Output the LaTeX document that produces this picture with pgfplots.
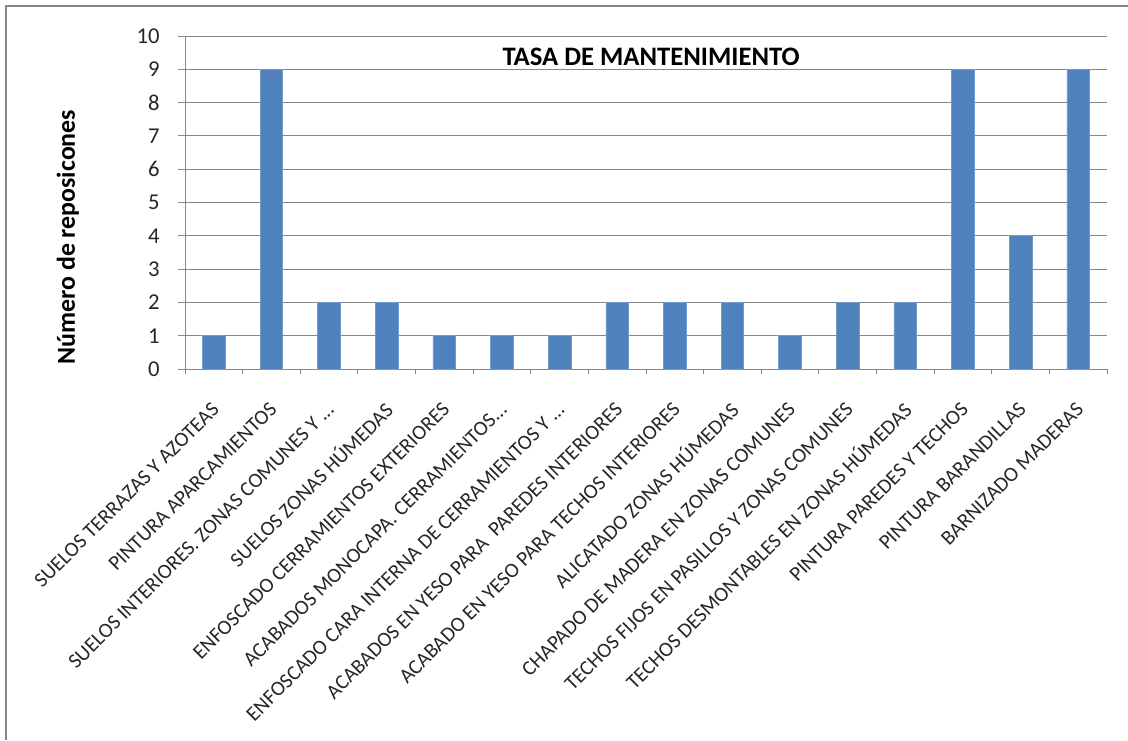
\documentclass[border=0pt]{standalone}
\usepackage{fontspec}
\setmainfont{Carlito}
\usepackage{pgfplots}
\pgfplotsset{compat=1.18}
\definecolor{barblue}{HTML}{4F81BD}
\definecolor{gridgray}{HTML}{868686}
\newcommand{\dd}{.\relax.\relax.}
\begin{document}
\begin{tikzpicture}
\useasboundingbox (0pt,0pt) rectangle (846pt,-555pt);
\draw[gridgray, line width=1.6pt] (4.5pt,-555pt) -- (4.5pt,-4.5pt) -- (846pt,-4.5pt);
\begin{axis}[
  at={(138.75pt,-276.75pt)}, anchor=south west,
  width=691.5pt, height=249.75pt, scale only axis,
  xmin=-0.5, xmax=15.5, ymin=0, ymax=10,
  ytick={0,1,...,10},
  xtick={0,1,...,15},
  minor xtick={-0.5,0.5,1.5,2.5,3.5,4.5,5.5,6.5,7.5,8.5,9.5,10.5,11.5,12.5,13.5,14.5,15.5},
  major x tick style={draw=none},
  minor x tick style={gridgray, line width=0.75pt},
  y tick style={gridgray, line width=0.75pt},
  tick align=outside,
  major tick length=5pt, minor tick length=4pt,
  axis x line*=bottom, axis y line*=left,
  axis line style={gridgray, line width=0.75pt, -},
  ymajorgrids, grid style={gridgray, line width=0.75pt},
  /pgf/number format/assume math mode=true,
  yticklabel style={font=\fontsize{17}{17}\selectfont, color=black!85, xshift=-10.5pt},
  xticklabel style={rotate=45, anchor=east, font=\fontsize{15.6}{15.6}\selectfont, color=black!85, inner sep=0pt, yshift=-17pt, xshift=-15pt},
  xticklabels={SUELOS TERRAZAS Y AZOTEAS, PINTURA APARCAMIENTOS, {SUELOS INTERIORES. ZONAS COMUNES Y \dd}, SUELOS ZONAS HÚMEDAS, ENFOSCADO CERRAMIENTOS EXTERIORES, {ACABADOS MONOCAPA. CERRAMIENTOS\dd}, {ENFOSCADO CARA INTERNA DE CERRAMIENTOS Y \dd}, {ACABADOS EN YESO PARA\ \ PAREDES INTERIORES}, ACABADO EN YESO PARA TECHOS INTERIORES, ALICATADO ZONAS HÚMEDAS, CHAPADO DE MADERA EN ZONAS COMUNES, TECHOS FIJOS EN PASILLOS Y ZONAS COMUNES, TECHOS DESMONTABLES EN ZONAS HÚMEDAS, PINTURA PAREDES Y TECHOS, PINTURA BARANDILLAS, BARNIZADO MADERAS},
  ybar, bar width=17pt, bar shift=0pt,
  clip=false,
]
\addplot[fill=barblue, draw=barblue!80!white, line width=0.5pt] coordinates {
(0,1)(1,9)(2,2)(3,2)(4,1)(5,1)(6,1)(7,2)(8,2)(9,2)(10,1)(11,2)(12,2)(13,9)(14,4)(15,9)};
\node[font=\bfseries\fontsize{20}{20}\selectfont, color=black] at (rel axis cs:0.5055,0.937) {TASA DE MANTENIMIENTO};
\node[rotate=90, font=\bfseries\fontsize{19.4}{19.4}\selectfont, color=black] at (rel axis cs:-0.127,0.396) {Número de reposicones};
\end{axis}
\end{tikzpicture}
\end{document}
